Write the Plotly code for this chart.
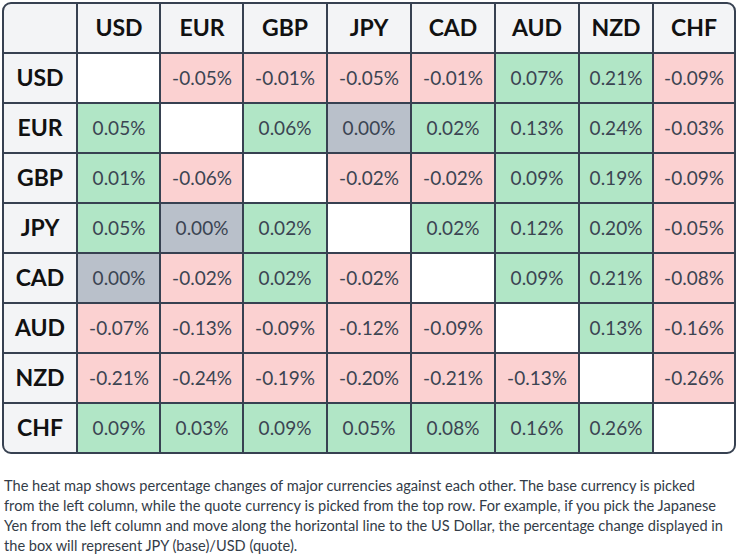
import plotly.graph_objects as go
import numpy as np

currencies = ["USD", "EUR", "GBP", "JPY", "CAD", "AUD", "NZD", "CHF"]

# rows = base currency, columns = quote currency (percent change)
usd = [None, -0.05, -0.01, -0.05, -0.01, 0.07, 0.21, -0.09]
eur = [0.05, None, 0.06, 0.00, 0.02, 0.13, 0.24, -0.03]
gbp = [0.01, -0.06, None, -0.02, -0.02, 0.09, 0.19, -0.09]
jpy = [0.05, 0.00, 0.02, None, 0.02, 0.12, 0.20, -0.05]
cad = [0.00, -0.02, 0.02, -0.02, None, 0.09, 0.21, -0.08]
aud = [-0.07, -0.13, -0.09, -0.12, -0.09, None, 0.13, -0.16]
nzd = [-0.21, -0.24, -0.19, -0.20, -0.21, -0.13, None, -0.26]
chf = [0.09, 0.03, 0.09, 0.05, 0.08, 0.16, 0.26, None]
rows = [usd, eur, gbp, jpy, cad, aud, nzd, chf]

note_lines = [
    "The heat map shows percentage changes of major currencies against each other. The base currency is picked",
    "from the left column, while the quote currency is picked from the top row. For example, if you pick the Japanese",
    "Yen from the left column and move along the horizontal line to the US Dollar, the percentage change displayed in",
    "the box will represent JPY (base)/USD (quote).",
]

# ---- layout / style ----
col_widths = [74, 83, 83, 84, 84, 84, 84, 74, 82]
row_height = 50
W, H = 737, 556
ML, MR, MT = 3, 2, 3
plot_w = sum(col_widths)
plot_h = row_height * 9
MB = H - MT - plot_h

HEADER_BG = "#f3f4f6"
NEG = "#fbd1d1"
ZERO = "#b9c0ca"
POS = "#b1e6c6"
DIAG = "#ffffff"
BORDER = "#374151"

x_edges = np.concatenate([[0], np.cumsum(col_widths)])
y_edges = np.arange(10) * row_height

n = len(currencies)
codes = np.zeros((n + 1, n + 1))
val_text = [["" for _ in range(n + 1)] for _ in range(n + 1)]
hdr_z = [[None] * (n + 1) for _ in range(n + 1)]
hdr_text = [["" for _ in range(n + 1)] for _ in range(n + 1)]
for i in range(n + 1):
    for j in range(n + 1):
        if i == 0 or j == 0:
            codes[i][j] = 0
            hdr_z[i][j] = 0
            if i == 0 and j > 0:
                hdr_text[i][j] = "<b>" + currencies[j - 1] + "</b>"
            elif j == 0 and i > 0:
                hdr_text[i][j] = "<b>" + currencies[i - 1] + "</b>"
        else:
            v = rows[i - 1][j - 1]
            if v is None:
                codes[i][j] = 4
            elif abs(v) < 1e-9:
                codes[i][j] = 2
                val_text[i][j] = "0.00%"
            elif v < 0:
                codes[i][j] = 1
                val_text[i][j] = f"{v:.2f}%"
            else:
                codes[i][j] = 3
                val_text[i][j] = f"{v:.2f}%"

cols = [HEADER_BG, NEG, ZERO, POS, DIAG]
colorscale = []
for k, c in enumerate(cols):
    colorscale.append([k / 5, c])
    colorscale.append([(k + 1) / 5, c])

fig = go.Figure()
fig.add_trace(go.Heatmap(
    x=x_edges, y=y_edges, z=codes, zmin=0, zmax=5,
    colorscale=colorscale, showscale=False,
    xgap=2, ygap=2,
    text=val_text, texttemplate="%{text}",
    textfont=dict(family="Lato", size=19, color="#3b4452"),
    hoverinfo="skip",
))
fig.add_trace(go.Heatmap(
    x=x_edges, y=y_edges, z=hdr_z, zmin=0, zmax=5,
    colorscale=colorscale, showscale=False,
    xgap=2, ygap=2,
    text=hdr_text, texttemplate="%{text}",
    textfont=dict(family="Lato", size=23, color="#111111"),
    hoverinfo="skip",
))

# rounded outer border with white corner masks
R = 8
rx, ry = R / plot_w, R / plot_h
c = 0.5523
def corner(cx, cy, sx, sy):
    p1 = (cx + sx * rx, cy)
    p2 = (cx, cy + sy * ry)
    c1 = (cx + sx * rx * (1 - c), cy)
    c2 = (cx, cy + sy * ry * (1 - c))
    return (f"M{cx},{cy} L{p1[0]},{p1[1]} C{c1[0]},{c1[1]} {c2[0]},{c2[1]} {p2[0]},{p2[1]} Z ")
mask = corner(0, 1, 1, -1) + corner(1, 1, -1, -1) + corner(0, 0, 1, 1) + corner(1, 0, -1, 1)
fig.add_shape(type="path", xref="paper", yref="paper", path=mask,
              fillcolor="white", line=dict(width=0), layer="above")

border = (
    f"M{rx},1 L{1-rx},1 C{1-rx*(1-c)},1 1,{1-ry*(1-c)} 1,{1-ry} "
    f"L1,{ry} C1,{ry*(1-c)} {1-rx*(1-c)},0 {1-rx},0 "
    f"L{rx},0 C{rx*(1-c)},0 0,{ry*(1-c)} 0,{ry} "
    f"L0,{1-ry} C0,{1-ry*(1-c)} {rx*(1-c)},1 {rx},1 Z"
)
fig.add_shape(type="path", xref="paper", yref="paper", path=border,
              line=dict(color=BORDER, width=2), fillcolor="rgba(0,0,0,0)", layer="above")

for idx, line in enumerate(note_lines):
    fig.add_annotation(
        text=line, xref="paper", yref="paper", x=0, y=0,
        xanchor="left", yanchor="middle", showarrow=False,
        yshift=-(32 + 20 * idx), xshift=-1,
        font=dict(family="Lato", size=14.6, color="#333c48"),
    )

fig.update_xaxes(range=[0, plot_w], visible=False, fixedrange=True)
fig.update_yaxes(range=[plot_h, 0], visible=False, fixedrange=True)
fig.update_layout(
    width=W, height=H,
    margin=dict(l=ML, r=MR, t=MT, b=MB),
    paper_bgcolor="white", plot_bgcolor=BORDER,
    showlegend=False,
)
fig.write_html(
    "out.html",
    config={"displayModeBar": False},
    post_script="document.body.style.margin='0';document.body.style.overflow='hidden';",
)
